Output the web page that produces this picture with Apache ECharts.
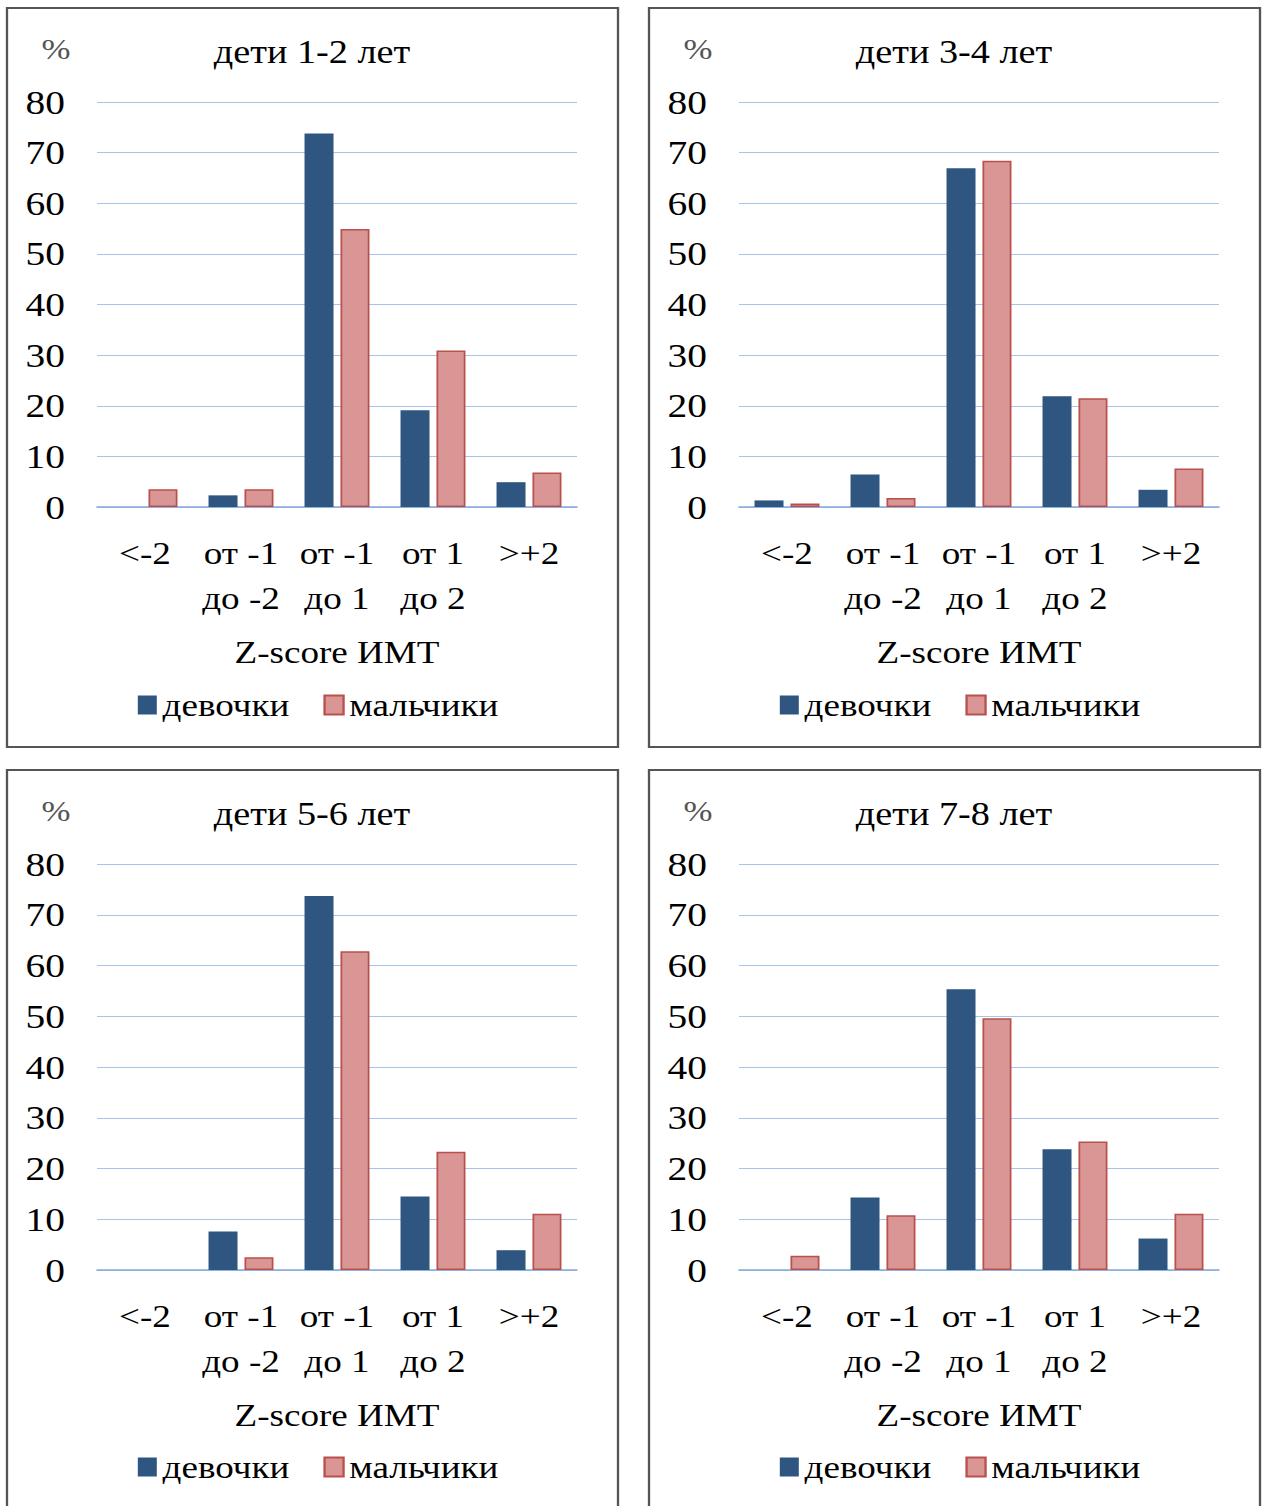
<!DOCTYPE html>
<html>
<head>
<meta charset="utf-8">
<script src="https://cdn.jsdelivr.net/npm/echarts@6/dist/echarts.min.js"></script>
<style>
  html, body { margin: 0; padding: 0; background: #fff; overflow: hidden; }
  /* the figure is laid out narrower and widened, giving the wide serif lettering */
  #chart { height: 1506px; transform-origin: 0 0; }
</style>
</head>
<body>
<div id="chart"></div>
<script>
// Z-score BMI distribution by age group, % of children
const categories = ['<-2', 'от -1\nдо -2', 'от -1\nдо 1', 'от 1\nдо 2', '>+2'];
const panelTitles = ['дети 1-2 лет', 'дети 3-4 лет', 'дети 5-6 лет', 'дети 7-8 лет'];
const seriesNames = ['девочки', 'мальчики'];
const axisName = 'Z-score ИМТ';
const unitLabel = '%';

const girls12 = [0, 2.3, 73.8, 19.1, 4.9];
const boys12  = [3.5, 3.5, 54.9, 30.9, 6.8];
const girls34 = [1.3, 6.4, 66.9, 21.9, 3.4];
const boys34  = [0.7, 1.8, 68.4, 21.5, 7.6];
const girls56 = [0, 7.6, 73.7, 14.5, 3.9];
const boys56  = [0, 2.5, 62.8, 23.3, 11.1];
const girls78 = [0, 14.3, 55.3, 23.8, 6.2];
const boys78  = [2.8, 10.8, 49.6, 25.3, 11.1];

const yMin = 0, yMax = 80, yStep = 10;

const girlsData = [girls12, girls34, girls56, girls78];
const boysData  = [boys12, boys34, boys56, boys78];

// horizontal widening factor of the whole figure
const S = 1.16;
const PAGE_W = 1263;
const el = document.getElementById('chart');
el.style.width = (PAGE_W / S) + 'px';
el.style.transform = 'scaleX(' + S + ')';
const X = px => px / S;

// panel offsets of the 2x2 layout (page pixels)
const panelOrigins = [[0, 0], [642, 0], [0, 762], [642, 762]];

const FONT = '"Liberation Serif", "Times New Roman", serif';
const girlsColor = '#2f5581';
const boysColor = '#d99694';
const boysBorder = '#b9504c';
const gridColor = '#a6c4ea';

// zero-height bars are left out so no stray outline is drawn
const toItems = arr => arr.map(v => (v === 0 ? '-' : v));

const grids = [], xAxes = [], yAxes = [], series = [], legends = [], graphics = [];

panelOrigins.forEach(([ox, oy], i) => {
  graphics.push({
    type: 'rect',
    shape: { x: X(7 + ox), y: 8 + oy, width: X(611), height: 739 + (oy ? 20 : 0) },
    style: { fill: 'none', stroke: '#555', lineWidth: 2 },
    z: 10
  });
  graphics.push({
    type: 'text', x: X(312 + ox), y: 52 + oy,
    style: { text: panelTitles[i], font: '33px ' + FONT, fill: '#000',
             textAlign: 'center', textVerticalAlign: 'middle' }
  });
  graphics.push({
    type: 'text', x: X(56 + ox), y: 49 + oy,
    style: { text: unitLabel, font: '30px ' + FONT, fill: '#555',
             textAlign: 'center', textVerticalAlign: 'middle' }
  });

  grids.push({ left: X(97 + ox), top: 102 + oy, width: X(480), height: 405 + (oy ? 1 : 0) });

  xAxes.push({
    type: 'category', gridIndex: i, data: categories,
    axisTick: { show: false },
    axisLine: { lineStyle: { color: '#86aadb', width: 1.5 } },
    axisLabel: { color: '#000', fontFamily: FONT, fontSize: 32, lineHeight: 45,
                 margin: 23, interval: 0 },
    name: axisName, nameLocation: 'middle', nameGap: 129,
    nameTextStyle: { color: '#000', fontFamily: FONT, fontSize: 32 }
  });

  yAxes.push({
    type: 'value', gridIndex: i, min: yMin, max: yMax, interval: yStep,
    axisLine: { show: false }, axisTick: { show: false },
    axisLabel: { color: '#000', fontFamily: FONT, fontSize: 34, margin: X(32) },
    splitLine: { lineStyle: { color: gridColor, width: 1 } }
  });

  series.push({
    name: seriesNames[0], type: 'bar', xAxisIndex: i, yAxisIndex: i,
    data: toItems(girlsData[i]), barWidth: X(29), barGap: '24%',
    itemStyle: { color: girlsColor }
  });
  series.push({
    name: seriesNames[1], type: 'bar', xAxisIndex: i, yAxisIndex: i,
    data: toItems(boysData[i]), barWidth: X(29), barGap: '24%',
    itemStyle: { color: boysColor, borderColor: boysBorder, borderWidth: 1.5 }
  });

  legends.push({
    data: seriesNames, left: X(132 + ox), top: 684 + oy,
    icon: 'rect', itemWidth: X(19), itemHeight: 19, itemGap: X(34),
    textStyle: { color: '#000', fontFamily: FONT, fontSize: 32 },
    selectedMode: false
  });
});

const chart = echarts.init(el, null, { renderer: 'svg' });
chart.setOption({
  animation: false,
  backgroundColor: '#fff',
  grid: grids,
  xAxis: xAxes,
  yAxis: yAxes,
  legend: legends,
  series: series,
  graphic: graphics
});
</script>
</body>
</html>
